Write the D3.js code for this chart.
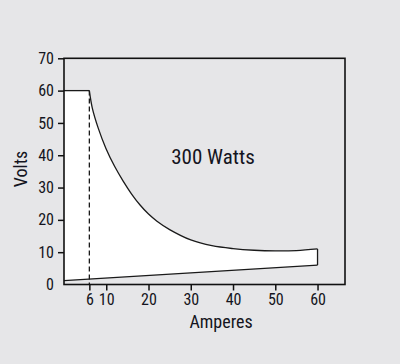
<!DOCTYPE html>
<html>
<head>
<meta charset="utf-8">
<script src="https://cdn.jsdelivr.net/npm/d3@7"></script>
<style>
  body { margin: 0; background: #e6e6e8; }
  text { font-family: "Liberation Sans Narrow", "Arial Narrow", "Roboto Condensed", sans-serif; fill: #141420; }
</style>
</head>
<body>
<div id="chart"></div>
<script>
// Chart data
var xTicks = [6, 10, 20, 30, 40, 50, 60];
var yTicks = [0, 10, 20, 30, 40, 50, 60, 70];
// constant-voltage limit (amps, volts)
var limitAmps = [0, 6];
var limitVolts = [60, 60];
// 300 W power curve (amps, volts)
var curveAmps = [6, 6.7, 8.1, 9.9, 12, 14, 16, 18, 20, 22, 25, 30, 35, 40, 45, 50, 55, 60];
var curveVolts = [60, 54.6, 48.4, 42.2, 36.5, 32, 28, 24.6, 21.8, 19.6, 17, 13.8, 12, 11.1, 10.6, 10.4, 10.5, 11];
// lower load line (amps, volts)
var lowerAmps = [0, 60];
var lowerVolts = [1.2, 6];
var powerLabel = "300 Watts";

// SVG dimensions
var svgWidth = 400;
var svgHeight = 364;

var svg = d3.select("#chart")
  .append("svg")
  .attr("width", svgWidth)
  .attr("height", svgHeight);

svg.append("rect")
  .attr("width", svgWidth)
  .attr("height", svgHeight)
  .attr("fill", "#e6e6e8");

// Scales
var x = d3.scaleLinear().domain([0, 66.5]).range([64, 345]);
var y = d3.scaleLinear().domain([0, 70]).range([284.5, 58.3]);

var zip = (a, b) => a.map((d, i) => [d, b[i]]);
var limitPts = zip(limitAmps, limitVolts);
var curvePts = zip(curveAmps, curveVolts);
var lowerPts = zip(lowerAmps, lowerVolts);

var straight = d3.line().x(d => x(d[0])).y(d => y(d[1]));
var smooth = d3.line().x(d => x(d[0])).y(d => y(d[1])).curve(d3.curveCatmullRom);

// Fill the operating region white
var regionPath = straight(limitPts)
  + smooth(curvePts).replace(/^M/, "L")
  + straight(lowerPts.slice().reverse()).replace(/^M/, "L")
  + "Z";

svg.append("path")
  .attr("d", regionPath)
  .attr("fill", "#ffffff")
  .attr("stroke", "none");

// Outline of the region
svg.append("path")
  .attr("d", straight(limitPts))
  .attr("fill", "none")
  .attr("stroke", "#1a1a1a")
  .attr("stroke-width", 1.3);

svg.append("path")
  .attr("d", smooth(curvePts))
  .attr("fill", "none")
  .attr("stroke", "#1a1a1a")
  .attr("stroke-width", 1.3);

svg.append("path")
  .attr("d", straight([curvePts[curvePts.length - 1], lowerPts[1]]))
  .attr("fill", "none")
  .attr("stroke", "#1a1a1a")
  .attr("stroke-width", 1.3);

svg.append("path")
  .attr("d", straight(lowerPts))
  .attr("fill", "none")
  .attr("stroke", "#1a1a1a")
  .attr("stroke-width", 1.3);

// Dashed line at 6 A
svg.append("line")
  .attr("x1", x(6)).attr("x2", x(6))
  .attr("y1", y(60)).attr("y2", y(0))
  .attr("stroke", "#1a1a1a")
  .attr("stroke-width", 1.3)
  .attr("stroke-dasharray", "5,3");

// Plot frame
svg.append("rect")
  .attr("x", x(0))
  .attr("y", y(70))
  .attr("width", x(66.5) - x(0))
  .attr("height", y(0) - y(70))
  .attr("fill", "none")
  .attr("stroke", "#111")
  .attr("stroke-width", 1.6);

// Axes
var bottomAxis = d3.axisBottom(x).tickValues(xTicks).tickSize(6).tickPadding(3);
var leftAxis = d3.axisLeft(y).tickValues(yTicks).tickSize(6).tickPadding(4);

var xAxisG = svg.append("g")
  .attr("transform", `translate(0, ${y(0)})`)
  .call(bottomAxis);

var yAxisG = svg.append("g")
  .attr("transform", `translate(${x(0)}, 0)`)
  .call(leftAxis);

[xAxisG, yAxisG].forEach(function(g) {
  g.select(".domain").remove();
  g.selectAll("line").attr("stroke", "#111").attr("stroke-width", 1.5);
  g.selectAll("text")
    .attr("font-size", 16)
    .attr("font-family", null)
    .attr("fill", "#141420");
});

// no tick mark at 0 on the y axis
yAxisG.selectAll(".tick").filter(d => d === 0).select("line").remove();

// Axis titles
svg.append("text")
  .attr("x", 221)
  .attr("y", 328)
  .attr("text-anchor", "middle")
  .attr("font-size", 18)
  .text("Amperes");

svg.append("text")
  .attr("transform", "translate(27, 169) rotate(-90)")
  .attr("text-anchor", "middle")
  .attr("font-size", 18)
  .text("Volts");

// Curve label
svg.append("text")
  .attr("x", 213)
  .attr("y", 164)
  .attr("text-anchor", "middle")
  .attr("font-size", 21)
  .text(powerLabel);
</script>
</body>
</html>
